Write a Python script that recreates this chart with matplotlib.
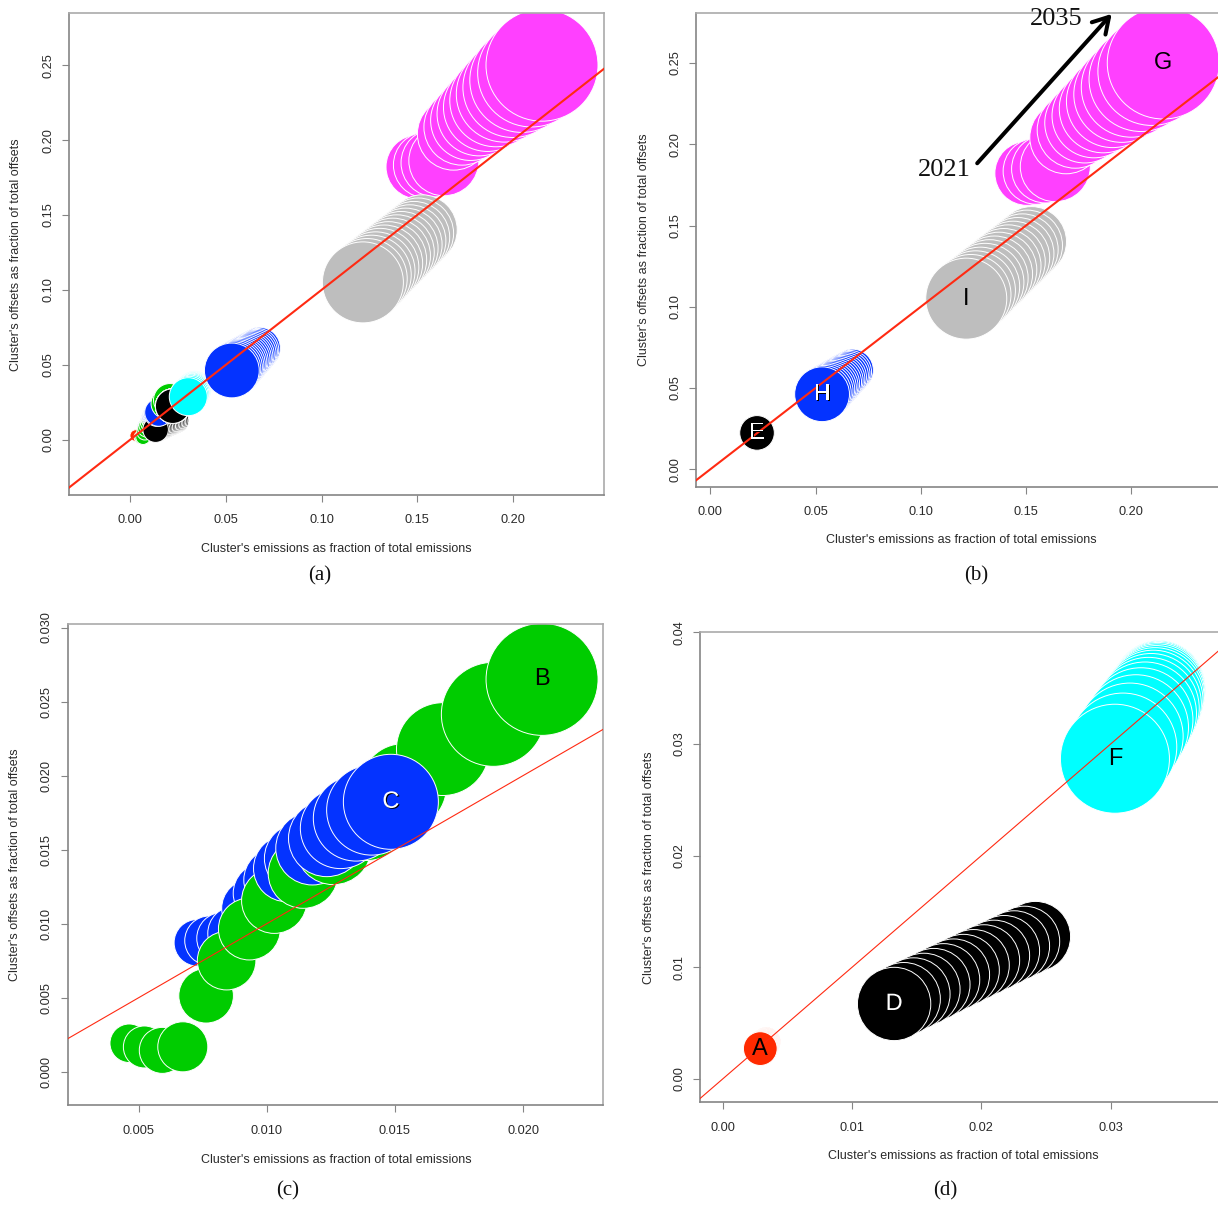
import matplotlib
matplotlib.use("Agg")
import matplotlib.pyplot as plt
import matplotlib.patheffects as pe

plt.rcParams["font.family"] = ["Liberation Sans", "DejaVu Sans"]

W, H, DPI = 1218, 1207, 100

# Yearly trajectories 2021-2035 of each cluster:
# share of total emissions, share of total offsets, and bubble size (relative radius)
years = list(range(2021, 2036))

A_emis = [0.00291, 0.00294, 0.00298, 0.00301, 0.00305, 0.00308, 0.00311, 0.00314, 0.00318, 0.00321, 0.00324, 0.00327, 0.00330, 0.00333, 0.00336]
A_offs = [0.00272, 0.00277, 0.00281, 0.00286, 0.00290, 0.00295, 0.00299, 0.00303, 0.00307, 0.00311, 0.00316, 0.00320, 0.00325, 0.00329, 0.00334]
A_size = [5.88, 5.81, 5.75, 5.69, 5.62, 5.56, 5.50, 5.43, 5.37, 5.31, 5.24, 5.18, 5.11, 5.04, 4.97]

B_emis = [0.00463, 0.00522, 0.00592, 0.00672, 0.00763, 0.00843, 0.00932, 0.01029, 0.01142, 0.01260, 0.01390, 0.01533, 0.01687, 0.01884, 0.02074]
B_offs = [0.00192, 0.00167, 0.00144, 0.00168, 0.00513, 0.00750, 0.00964, 0.01155, 0.01340, 0.01520, 0.01700, 0.01925, 0.02179, 0.02414, 0.02650]
B_size = [5.65, 6.15, 6.74, 7.33, 8.00, 8.58, 9.08, 9.58, 10.26, 11.13, 11.87, 12.60, 13.60, 15.24, 16.41]

C_emis = [0.00729, 0.00776, 0.00828, 0.00876, 0.00937, 0.00987, 0.01035, 0.01078, 0.01127, 0.01178, 0.01234, 0.01288, 0.01348, 0.01409, 0.01484]
C_offs = [0.00871, 0.00885, 0.00901, 0.00934, 0.01103, 0.01205, 0.01295, 0.01373, 0.01441, 0.01509, 0.01576, 0.01644, 0.01711, 0.01767, 0.01823]
C_size = [6.83, 7.24, 7.62, 8.00, 8.50, 8.88, 9.38, 9.76, 10.25, 10.75, 11.22, 11.81, 12.51, 13.19, 13.92]

D_emis = [0.01326, 0.01401, 0.01477, 0.01555, 0.01633, 0.01709, 0.01786, 0.01862, 0.01940, 0.02021, 0.02099, 0.02177, 0.02255, 0.02334, 0.02419]
D_offs = [0.00672, 0.00716, 0.00759, 0.00801, 0.00845, 0.00889, 0.00932, 0.00974, 0.01018, 0.01062, 0.01104, 0.01147, 0.01190, 0.01232, 0.01276]
D_size = [12.78, 12.74, 12.70, 12.67, 12.63, 12.59, 12.55, 12.52, 12.48, 12.44, 12.40, 12.36, 12.33, 12.29, 12.25]

E_emis = [0.02220, 0.02221, 0.02222, 0.02222, 0.02223, 0.02224, 0.02224, 0.02225, 0.02226, 0.02226, 0.02227, 0.02228, 0.02228, 0.02229, 0.02230]
E_offs = [0.02240, 0.02241, 0.02243, 0.02244, 0.02245, 0.02246, 0.02248, 0.02249, 0.02250, 0.02252, 0.02253, 0.02254, 0.02255, 0.02257, 0.02258]
E_size = [17.30, 17.28, 17.26, 17.24, 17.21, 17.19, 17.17, 17.15, 17.12, 17.10, 17.08, 17.05, 17.03, 17.01, 16.98]

F_emis = [0.03034, 0.03096, 0.03150, 0.03196, 0.03235, 0.03267, 0.03293, 0.03314, 0.03331, 0.03344, 0.03354, 0.03362, 0.03367, 0.03371, 0.03374]
F_offs = [0.02869, 0.02975, 0.03070, 0.03150, 0.03218, 0.03275, 0.03322, 0.03362, 0.03397, 0.03425, 0.03449, 0.03470, 0.03488, 0.03502, 0.03514]
F_size = [19.00, 18.76, 18.55, 18.34, 18.13, 17.92, 17.71, 17.50, 17.29, 17.08, 16.87, 16.66, 16.45, 16.28, 16.10]

G_emis = [0.1504, 0.1548, 0.1593, 0.1639, 0.1690, 0.1734, 0.1779, 0.1823, 0.1867, 0.1911, 0.1955, 0.2000, 0.2047, 0.2098, 0.2152]
G_offs = [0.1821, 0.1834, 0.1848, 0.1862, 0.2041, 0.2087, 0.2131, 0.2175, 0.2218, 0.2263, 0.2307, 0.2351, 0.2399, 0.2448, 0.2500]
G_size = [32.0, 33.0, 34.0, 35.0, 36.2, 38.1, 40.0, 42.0, 44.0, 46.1, 48.0, 50.0, 52.1, 54.0, 56.0]

H_emis = [0.0531, 0.0541, 0.0552, 0.0562, 0.0572, 0.0582, 0.0592, 0.0603, 0.0613, 0.0623, 0.0633, 0.0644, 0.0654, 0.0664, 0.0675]
H_offs = [0.0462, 0.0473, 0.0484, 0.0494, 0.0505, 0.0515, 0.0526, 0.0536, 0.0547, 0.0557, 0.0568, 0.0578, 0.0589, 0.0599, 0.0610]
H_size = [27.4, 27.0, 26.5, 26.1, 25.6, 25.2, 24.7, 24.3, 23.8, 23.4, 22.9, 22.5, 22.0, 21.5, 21.0]

I_emis = [0.1216, 0.1238, 0.1261, 0.1283, 0.1305, 0.1327, 0.1350, 0.1372, 0.1394, 0.1416, 0.1439, 0.1461, 0.1483, 0.1505, 0.1526]
I_offs = [0.1050, 0.1075, 0.1100, 0.1125, 0.1151, 0.1176, 0.1201, 0.1227, 0.1252, 0.1277, 0.1302, 0.1327, 0.1352, 0.1377, 0.1401]
I_size = [40.5, 40.1, 39.7, 39.3, 38.9, 38.5, 38.1, 37.7, 37.3, 36.9, 36.5, 36.1, 35.7, 35.4, 35.0]

clusters = {
    "A": (A_emis, A_offs, A_size),
    "B": (B_emis, B_offs, B_size),
    "C": (C_emis, C_offs, C_size),
    "D": (D_emis, D_offs, D_size),
    "E": (E_emis, E_offs, E_size),
    "F": (F_emis, F_offs, F_size),
    "G": (G_emis, G_offs, G_size),
    "H": (H_emis, H_offs, H_size),
    "I": (I_emis, I_offs, I_size),
}

fill = {"A": "#ff2a00", "B": "#00cc00", "C": "#0433ff", "D": "#000000", "E": "#000000",
        "F": "#00ffff", "G": "#ff40ff", "H": "#0433ff", "I": "#bebebe"}
text_col = {"A": "black", "B": "black", "C": "white", "D": "white", "E": "white",
            "F": "black", "G": "black", "H": "white", "I": "black"}

XLAB = "Cluster's emissions as fraction of total emissions"
YLAB = "Cluster's offsets as fraction of total offsets"
AXIS_GREY = "#858585"
FRAME_LIGHT = "#aaaaaa"
TEXT_GREY = "#2a2a2a"
LINE_RED = "#ff2a12"

panels = [
    dict(tag="(a)", members="ABCDEFGHI", labels=False,
         box=(69, 12.6, 604, 494.5), xlim=(-0.0320, 0.2476), ylim=(-0.0366, 0.2851),
         xticks=[0.00, 0.05, 0.10, 0.15, 0.20], yticks=[0.00, 0.05, 0.10, 0.15, 0.20, 0.25], fmt="{:.2f}",
         rmax=56, red_lw=1.5, tag_xy=(320, 576), xlab_xy=(336.5, 549), ylab_xy=(16.3, 254.7)),
    dict(tag="(b)", members="EHIG", labels=True,
         box=(696.3, 12.6, 1222, 486.7), xlim=(-0.00665, 0.2431), ylim=(-0.0107, 0.2810),
         xticks=[0.00, 0.05, 0.10, 0.15, 0.20], yticks=[0.00, 0.05, 0.10, 0.15, 0.20, 0.25], fmt="{:.2f}",
         rmax=56, red_lw=1.5, tag_xy=(976.6, 576), xlab_xy=(961, 540.2), ylab_xy=(644.2, 249.6)),
    dict(tag="(c)", members="BC", labels=True,
         box=(68, 624, 603.3, 1105.3), xlim=(0.00224, 0.02313), ylim=(-0.00227, 0.03024),
         xticks=[0.005, 0.010, 0.015, 0.020], yticks=[0.000, 0.005, 0.010, 0.015, 0.020, 0.025, 0.030], fmt="{:.3f}",
         rmax=56, red_lw=0.8, tag_xy=(287.5, 1191), xlab_xy=(336, 1159.6), ylab_xy=(15.5, 865)),
    dict(tag="(d)", members="ADF", labels=True,
         box=(700.3, 631.8, 1222, 1102.3), xlim=(-0.00173, 0.03862), ylim=(-0.00209, 0.04006),
         xticks=[0.00, 0.01, 0.02, 0.03], yticks=[0.00, 0.01, 0.02, 0.03, 0.04], fmt="{:.2f}",
         rmax=54.5, red_lw=0.8, tag_xy=(945, 1191), xlab_xy=(962.9, 1155.8), ylab_xy=(648.9, 867.2)),
]

fig = plt.figure(figsize=(W / DPI, H / DPI), dpi=DPI)
fig.patch.set_facecolor("white")


def fig_xy(px, py):
    return px / W, 1 - py / H


def px_to_pt(v):
    return v * 72.0 / DPI


axes = {}
for p in panels:
    left, top, right, bottom = p["box"]
    ax = fig.add_axes([left / W, 1 - bottom / H, (right - left) / W, (bottom - top) / H])
    axes[p["tag"]] = ax
    ax.set_xlim(*p["xlim"])
    ax.set_ylim(*p["ylim"])

    # gather every yearly bubble of the panel; larger bubbles are drawn on top
    pts = []
    for name in p["members"]:
        ex, of, sz = clusters[name]
        for x, y, s in zip(ex, of, sz):
            pts.append((s, x, y, fill[name]))
    pts.sort(key=lambda t: t[0])
    biggest = max(t[0] for t in pts)
    scale = p["rmax"] / biggest  # pixels per size unit
    xs = [t[1] for t in pts]
    ys = [t[2] for t in pts]
    areas = [(2 * px_to_pt(t[0] * scale)) ** 2 for t in pts]
    cols = [t[3] for t in pts]
    ax.scatter(xs, ys, s=areas, c=cols, edgecolors="white", linewidths=0.7, zorder=2)

    # parity line: offsets share equal to emissions share
    ax.axline((0, 0), slope=1, color=LINE_RED, lw=p["red_lw"], zorder=3)

    if p["labels"]:
        for name in p["members"]:
            ex, of, sz = clusters[name]
            k = sz.index(max(sz))
            effects = []
            if text_col[name] == "white":
                effects = [pe.withSimplePatchShadow(offset=(0.8, -0.6), shadow_rgbFace="black", alpha=1.0)]
            ax.text(ex[k], of[k], name, ha="center", va="center", fontsize=17,
                    color=text_col[name], zorder=4, path_effects=effects)

    ax.set_xticks(p["xticks"])
    ax.set_xticklabels([p["fmt"].format(v) for v in p["xticks"]])
    ax.set_yticks(p["yticks"])
    ax.set_yticklabels([p["fmt"].format(v) for v in p["yticks"]])
    ax.tick_params(direction="out", length=5, width=0.8, color=AXIS_GREY,
                   labelsize=9.2, labelcolor=TEXT_GREY)
    ax.tick_params(axis="x", pad=9.2)
    ax.tick_params(axis="y", pad=5.8, labelrotation=90)
    for lab in ax.get_yticklabels():
        lab.set_va("center")
    for side, sp in ax.spines.items():
        sp.set_color(AXIS_GREY if side in ("left", "bottom") else FRAME_LIGHT)
        sp.set_linewidth(1.2)

    fig.text(*fig_xy(*p["xlab_xy"]), XLAB, ha="center", va="center", fontsize=9, color=TEXT_GREY)
    fig.text(*fig_xy(*p["ylab_xy"]), YLAB, ha="center", va="center", fontsize=9,
             color=TEXT_GREY, rotation=90)
    fig.text(*fig_xy(*p["tag_xy"]), p["tag"], ha="center", va="center", fontsize=15,
             family="Liberation Serif", color="#111111")

# time direction arrow in panel (b)
axb = axes["(b)"]
axb.annotate("", xy=(0.1907, 0.2802), xytext=(0.1268, 0.1883),
             arrowprops=dict(arrowstyle="->,head_length=0.56,head_width=0.33", lw=2.9,
                             color="black", shrinkA=0, shrinkB=0, mutation_scale=20),
             annotation_clip=False, zorder=5)
fig.text(*fig_xy(944.7, 176.5), "2021", ha="center", va="baseline", fontsize=19,
         family="Liberation Serif", color="#111111")
fig.text(*fig_xy(1056.3, 25.0), "2035", ha="center", va="baseline", fontsize=19,
         family="Liberation Serif", color="#111111")

fig.savefig("out.png", dpi=DPI, facecolor="white")
